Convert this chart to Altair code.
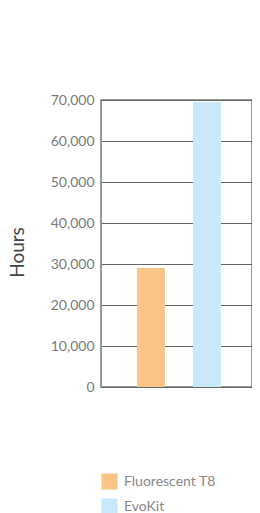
import altair as alt
import pandas as pd

categories = ["Fluorescent T8", "EvoKit"]
hours = [29000, 69500]
colors = ["#FCC588", "#C7E9F9"]

df = pd.DataFrame({"product": categories, "hours": hours})

chart = alt.Chart(df).mark_bar().encode(
    x=alt.X("product:N", sort=categories, axis=None,
            scale=alt.Scale(paddingInner=0.5, paddingOuter=0.598, align=0.537)),
    y=alt.Y("hours:Q", title="Hours",
            scale=alt.Scale(domain=[0, 70000]),
            axis=alt.Axis(values=list(range(0, 70001, 10000)), format=",d",
                          labelFont="Lato", labelFontSize=14, labelColor="#7a7a7a",
                          labelPadding=7, ticks=False, domain=False,
                          gridColor="#666666", gridWidth=1,
                          titleFont="Lato", titleFontSize=19, titleFontWeight="normal",
                          titleColor="#444444", titleAngle=270, titleAlign="center",
                          titleBaseline="alphabetic", titleX=-78, titleY=152)),
    color=alt.Color("product:N", sort=categories,
                    scale=alt.Scale(domain=categories, range=colors),
                    legend=alt.Legend(title=None, orient="none", legendX=0, legendY=373,
                                      symbolType="square", symbolSize=260,
                                      symbolStrokeWidth=0,
                                      labelFont="Lato", labelFontSize=14,
                                      labelColor="#888888", rowPadding=8,
                                      labelOffset=6)),
).properties(
    width=151, height=287,
    padding={"left": 93, "top": 92, "right": 0, "bottom": 140},
    autosize=alt.AutoSizeParams(type="none"),
).configure_view(stroke="#777777", strokeWidth=1.5)

chart.save("out.html", embed_options={"renderer": "svg", "actions": False})
